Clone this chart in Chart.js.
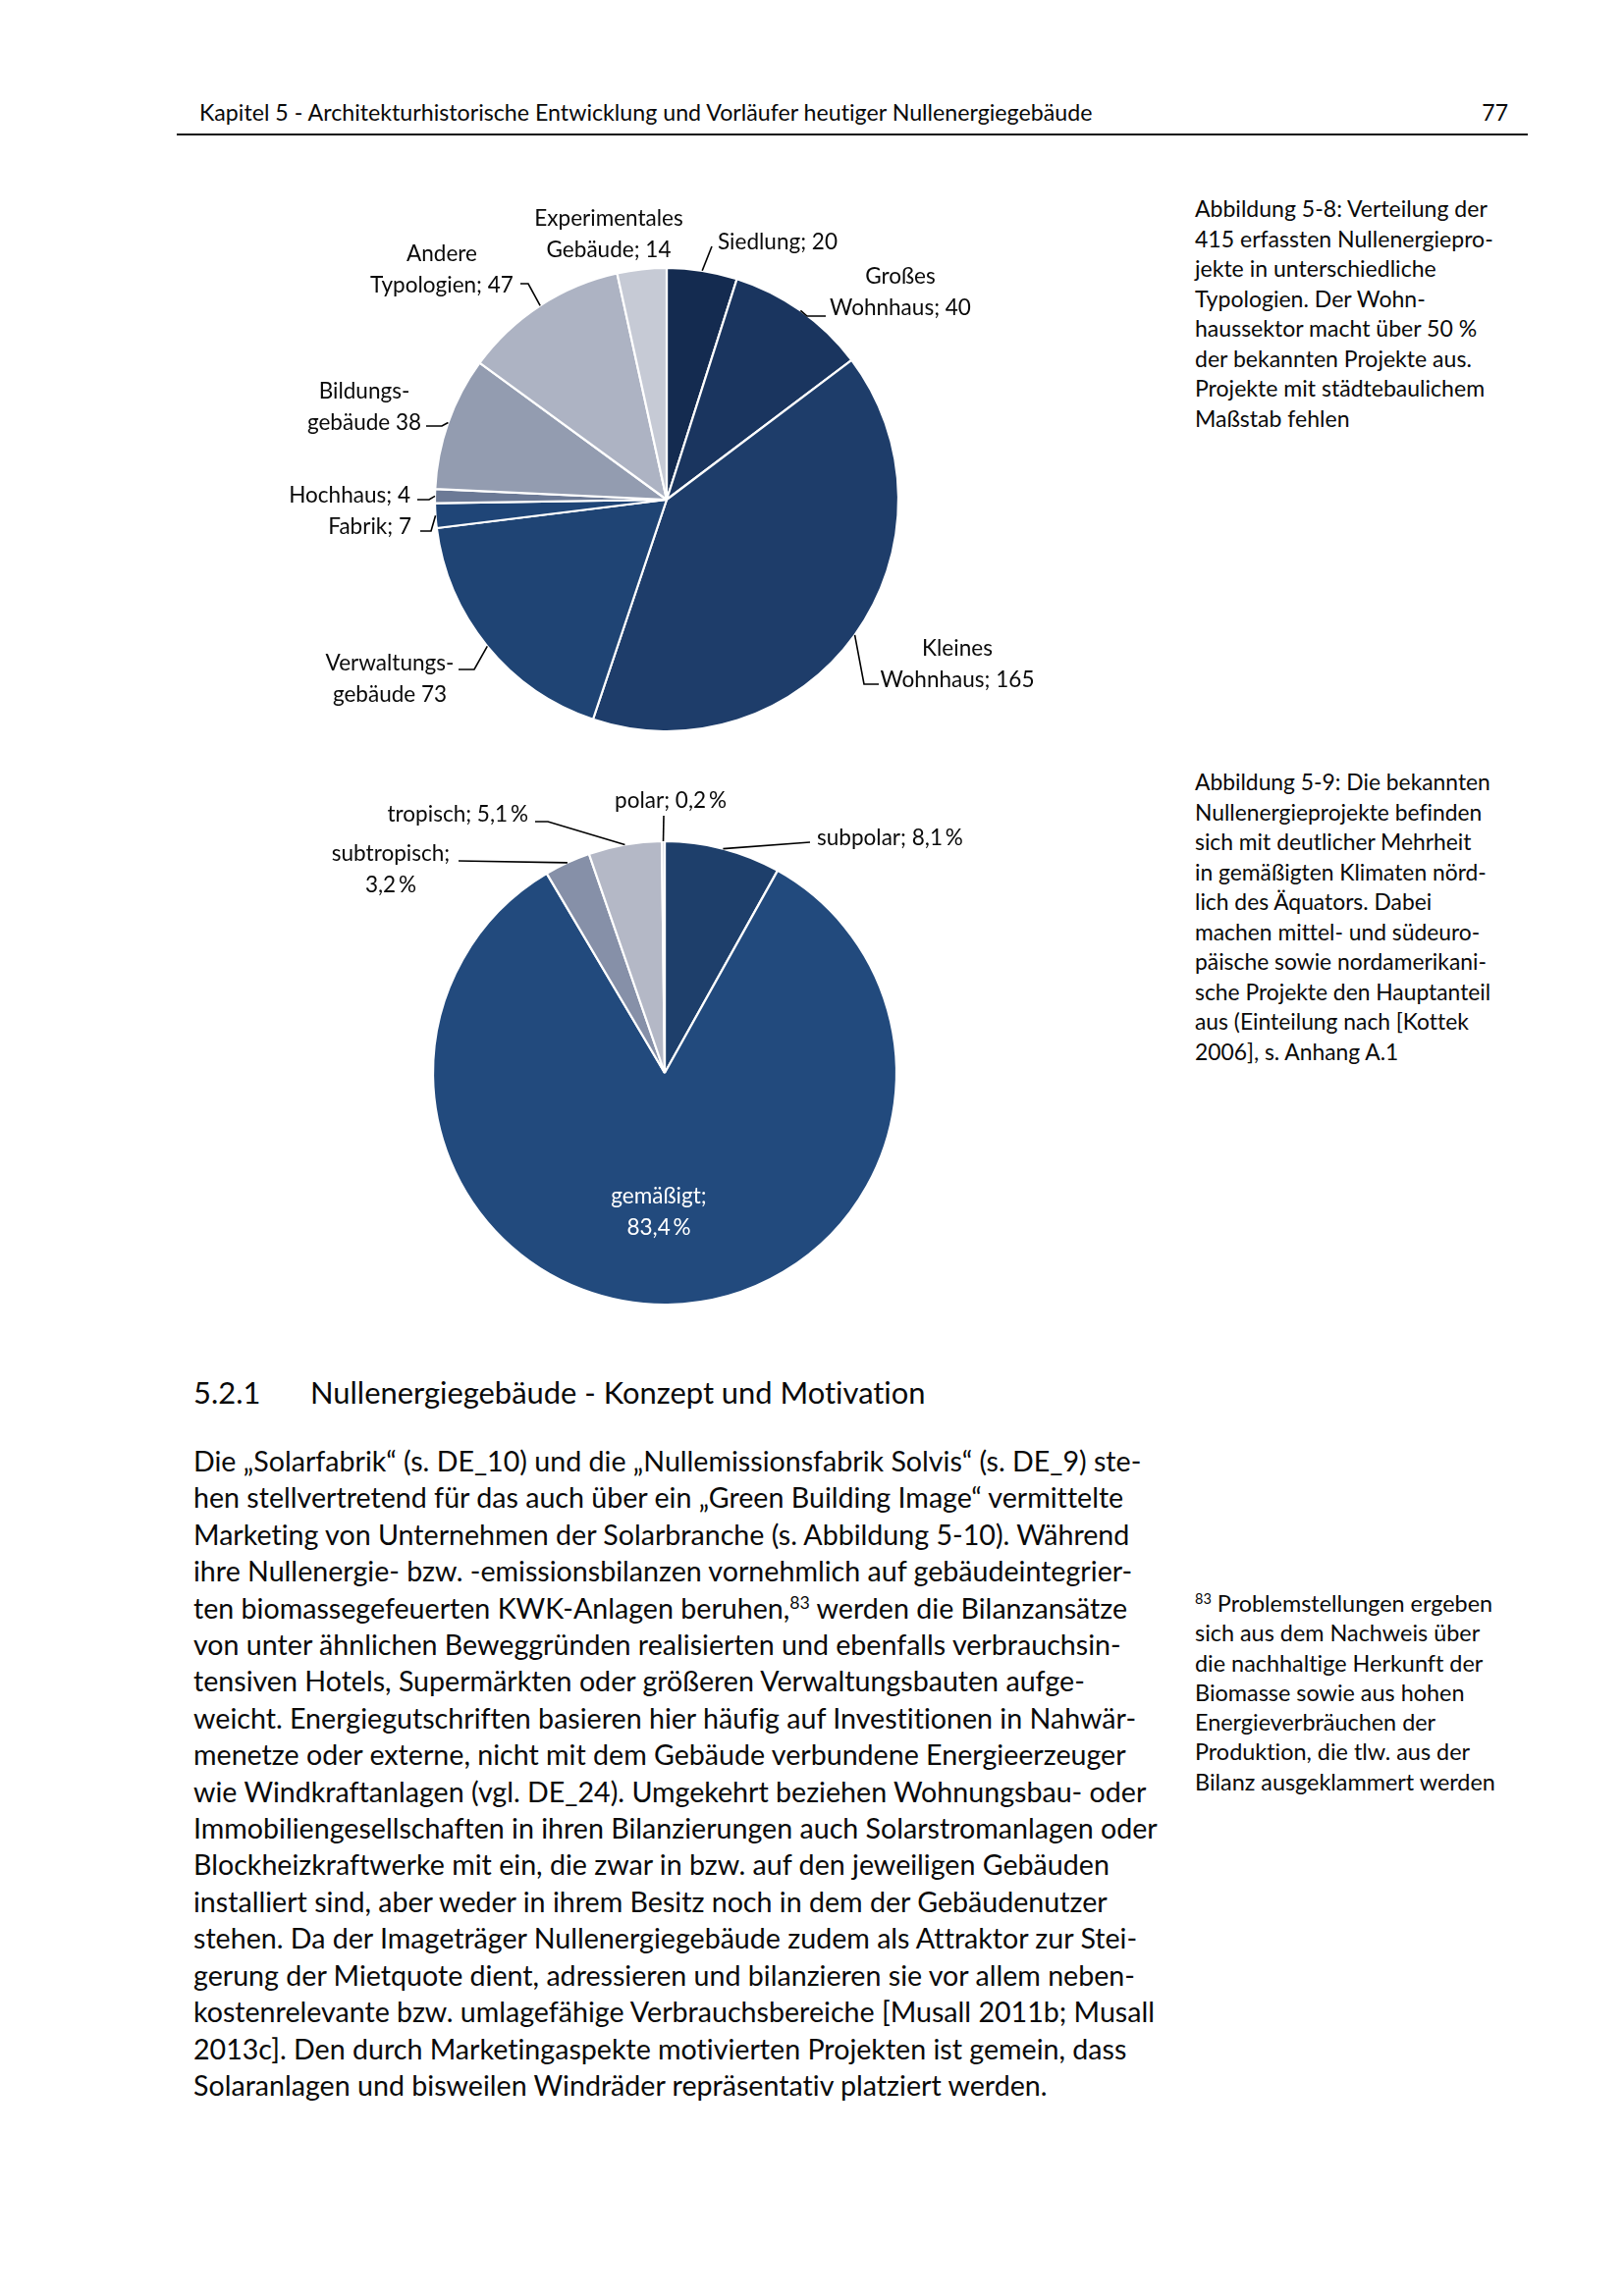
<!DOCTYPE html>
<html><head><meta charset="utf-8">
<script src="https://cdn.jsdelivr.net/npm/chart.js@4.4.1/dist/chart.umd.min.js"></script>
<style>
html,body{margin:0;padding:0;background:#fff;}
#page{position:relative;width:1654px;height:2339px;font-family:Lato,"Open Sans",sans-serif;color:#0a0a0a;overflow:hidden;font-variant-ligatures:none;font-feature-settings:"liga" 0,"clig" 0;}
.blk{position:absolute;white-space:nowrap;}
.blk span{display:inline-block;}
sup{font-size:0.62em;line-height:0;vertical-align:0.55em;}
canvas{position:absolute;}
</style></head><body>
<div id="page">
  <div class="blk" id="hdr" style="left:203px;top:99px;line-height:30px;font-size:23px;"><div><span>Kapitel 5 - Architekturhistorische Entwicklung und Vorläufer heutiger Nullenergiegebäude</span></div></div>
  <div class="blk" id="pno" style="right:118px;top:99px;line-height:30px;font-size:23px;">77</div>
  <div style="position:absolute;left:180px;top:136px;width:1376px;height:2px;background:#111;"></div>

  <div class="blk" id="cap1" style="left:1217px;top:197px;line-height:30.5px;font-size:23px;">
    <div><span>Abbildung 5-8: Verteilung der</span></div>
    <div><span>415 erfassten Nullenergiepro-</span></div>
    <div><span>jekte in unterschiedliche</span></div>
    <div><span>Typologien. Der Wohn-</span></div>
    <div><span>haussektor macht über 50 %</span></div>
    <div><span>der bekannten Projekte aus.</span></div>
    <div><span>Projekte mit städtebaulichem</span></div>
    <div><span>Maßstab fehlen</span></div>
  </div>

  <div class="blk" id="cap2" style="left:1217px;top:781px;line-height:30.5px;font-size:23px;">
    <div><span>Abbildung 5-9: Die bekannten</span></div>
    <div><span>Nullenergieprojekte befinden</span></div>
    <div><span>sich mit deutlicher Mehrheit</span></div>
    <div><span>in gemäßigten Klimaten nörd-</span></div>
    <div><span>lich des Äquators. Dabei</span></div>
    <div><span>machen mittel- und südeuro-</span></div>
    <div><span>päische sowie nordamerikani-</span></div>
    <div><span>sche Projekte den Hauptanteil</span></div>
    <div><span>aus (Einteilung nach [Kottek</span></div>
    <div><span>2006], s. Anhang A.1</span></div>
  </div>

  <div class="blk" id="head" style="left:197px;top:1398px;line-height:40px;font-size:33px;">
    <div><span style="position:absolute;left:0;">5.2.1</span><span id="htitle" style="margin-left:119px;">Nullenergiegebäude - Konzept und Motivation</span></div>
  </div>

  <div class="blk" id="body" style="left:197px;top:1470px;line-height:37.4px;font-size:28px;">
    <div><span>Die „Solarfabrik“ (s. DE_10) und die „Nullemissionsfabrik Solvis“ (s. DE_9) ste-</span></div>
    <div><span>hen stellvertretend für das auch über ein „Green Building Image“ vermittelte</span></div>
    <div><span>Marketing von Unternehmen der Solarbranche (s. Abbildung 5-10). Während</span></div>
    <div><span>ihre Nullenergie- bzw. -emissionsbilanzen vornehmlich auf gebäudeintegrier-</span></div>
    <div><span>ten biomassegefeuerten KWK-Anlagen beruhen,<sup>83</sup> werden die Bilanzansätze</span></div>
    <div><span>von unter ähnlichen Beweggründen realisierten und ebenfalls verbrauchsin-</span></div>
    <div><span>tensiven Hotels, Supermärkten oder größeren Verwaltungsbauten aufge-</span></div>
    <div><span>weicht. Energiegutschriften basieren hier häufig auf Investitionen in Nahwär-</span></div>
    <div><span>menetze oder externe, nicht mit dem Gebäude verbundene Energieerzeuger</span></div>
    <div><span>wie Windkraftanlagen (vgl. DE_24). Umgekehrt beziehen Wohnungsbau- oder</span></div>
    <div><span>Immobiliengesellschaften in ihren Bilanzierungen auch Solarstromanlagen oder</span></div>
    <div><span>Blockheizkraftwerke mit ein, die zwar in bzw. auf den jeweiligen Gebäuden</span></div>
    <div><span>installiert sind, aber weder in ihrem Besitz noch in dem der Gebäudenutzer</span></div>
    <div><span>stehen. Da der Imageträger Nullenergiegebäude zudem als Attraktor zur Stei-</span></div>
    <div><span>gerung der Mietquote dient, adressieren und bilanzieren sie vor allem neben-</span></div>
    <div><span>kostenrelevante bzw. umlagefähige Verbrauchsbereiche [Musall 2011b; Musall</span></div>
    <div><span>2013c]. Den durch Marketingaspekte motivierten Projekten ist gemein, dass</span></div>
    <div><span>Solaranlagen und bisweilen Windräder repräsentativ platziert werden.</span></div>
  </div>

  <div class="blk" id="foot" style="left:1217px;top:1618px;line-height:30.3px;font-size:23px;">
    <div><span><sup>83</sup> Problemstellungen ergeben</span></div>
    <div><span>sich aus dem Nachweis über</span></div>
    <div><span>die nachhaltige Herkunft der</span></div>
    <div><span>Biomasse sowie aus hohen</span></div>
    <div><span>Energieverbräuchen der</span></div>
    <div><span>Produktion, die tlw. aus der</span></div>
    <div><span>Bilanz ausgeklammert werden</span></div>
  </div>

  <canvas id="c1" width="800" height="620" style="left:279px;top:199px;width:800px;height:620px;"></canvas>
  <canvas id="c2" width="800" height="620" style="left:277px;top:783px;width:800px;height:620px;"></canvas>
</div>
<script>
// ---------- DATA ----------
const typCategories = ['Siedlung', 'Großes Wohnhaus', 'Kleines Wohnhaus', 'Verwaltungsgebäude', 'Fabrik', 'Hochhaus', 'Bildungsgebäude', 'Andere Typologien', 'Experimentales Gebäude'];
const typValues = [20, 40, 165, 73, 7, 4, 38, 47, 14];
const typLabelLines = [['Siedlung; {v}'], ['Großes', 'Wohnhaus; {v}'], ['Kleines', 'Wohnhaus; {v}'], ['Verwaltungs-', 'gebäude {v}'], ['Fabrik; {v}'], ['Hochhaus; {v}'], ['Bildungs-', 'gebäude {v}'], ['Andere', 'Typologien; {v}'], ['Experimentales', 'Gebäude; {v}']];

const climCategories = ['subpolar', 'gemäßigt', 'subtropisch', 'tropisch', 'polar'];
const climValues = [8.1, 83.4, 3.2, 5.1, 0.2];
const climLabelLines = [['subpolar; {v}'], ['gemäßigt;', '{v}'], ['subtropisch;', '{v}'], ['tropisch; {v}'], ['polar; {v}']];

// ---------- STYLE / LAYOUT ----------
const typColors = ['#142b50', '#1a355f', '#1e3d6a', '#1f4474', '#1f4577', '#6c7a96', '#939cb0', '#adb3c3', '#c6cad5'];
const climColors = ['#1e3f6b', '#224a7d', '#8690a8', '#b4b8c6', '#d3d6de'];

// label anchors relative to pie centre (px), leader polyline points after computed slice edge
const typLayout = [
  {x: 52, y: -262, align: 'left', leader: [[46, -258]]},
  {x: 238, y: -227, align: 'center', leader: [[143, -187], [162, -187]]},
  {x: 296, y: 152, align: 'center', leader: [[201, 188], [216, 188]]},
  {x: -282, y: 167, align: 'center', leader: [[-196, 173], [-212, 173]]},
  {x: -260, y: 28, align: 'right', leader: [[-240, 32], [-251, 32]]},
  {x: -261, y: -4, align: 'right', leader: [[-242, 0], [-254, 0]]},
  {x: -308, y: -110, align: 'center', leader: [[-229, -75], [-245, -75]]},
  {x: -229, y: -250, align: 'center', leader: [[-141, -220], [-149, -220]]},
  {x: -59, y: -286, align: 'center', leader: []}
];
const climLayout = [
  {x: 155, y: -239, align: 'left', leader: [[148, -235]]},
  {x: -6, y: 126, align: 'center', leader: [], color: '#ffffff'},
  {x: -279, y: -223, align: 'center', leader: [[-210, -216]]},
  {x: -139, y: -263, align: 'right', leader: [[-119, -256], [-132, -256]]},
  {x: 6, y: -277, align: 'center', leader: [[-1, -262]]}
];

const LINE_GAP = 31.5;
const FONT_FAMILY = 'Lato, "Open Sans", sans-serif';

// fit text blocks to reference widths
function fitBlock(id, lineIdx, target) {
  const el = document.getElementById(id);
  const spans = el.querySelectorAll('span');
  const sp = spans[lineIdx];
  const w = sp.getBoundingClientRect().width;
  const fs = parseFloat(getComputedStyle(el).fontSize);
  el.style.fontSize = (fs * target / w) + 'px';
}
fitBlock('hdr', 0, 910);
fitBlock('cap1', 0, 298);
fitBlock('cap2', 0, 301);
fitBlock('foot', 6, 306);
fitBlock('body', 10, 982);
(function () {
  const el = document.getElementById('head');
  const t = document.getElementById('htitle');
  const w = t.getBoundingClientRect().width;
  const fs = parseFloat(getComputedStyle(el).fontSize);
  el.style.fontSize = (fs * 627 / w) + 'px';
  t.style.marginLeft = '119px';
})();

// canvas label font size fitted so "Wohnhaus; 165" ~ 157px
const mctx = document.createElement('canvas').getContext('2d');
mctx.font = '25px ' + FONT_FAMILY;
const LABEL_PX = 25 * 157 / mctx.measureText('Wohnhaus; 165').width;

function fmtCount(v) { return String(v); }
function fmtPct(v) { return v.toFixed(1).replace('.', ',') + '\u2009%'; }

const labelPlugin = {
  id: 'pieLabels',
  afterDatasetsDraw(chart, args, opts) {
    const ctx = chart.ctx;
    const meta = chart.getDatasetMeta(0);
    const values = chart.data.datasets[0].data;
    ctx.save();
    meta.data.forEach((arc, i) => {
      const p = arc.getProps(['x', 'y', 'startAngle', 'endAngle', 'outerRadius'], true);
      const lay = opts.layout[i];
      const mid = (p.startAngle + p.endAngle) / 2;
      const ex = p.x + Math.cos(mid) * p.outerRadius;
      const ey = p.y + Math.sin(mid) * p.outerRadius;
      if (lay.leader.length) {
        ctx.beginPath();
        ctx.moveTo(ex, ey);
        lay.leader.forEach(pt => ctx.lineTo(p.x + pt[0], p.y + pt[1]));
        ctx.strokeStyle = '#000';
        ctx.lineWidth = 1.6;
        ctx.lineJoin = 'miter';
        ctx.stroke();
      }
      const lines = opts.lines[i].map(s => s.replace('{v}', opts.fmt(values[i])));
      ctx.font = LABEL_PX + 'px ' + FONT_FAMILY;
      ctx.fillStyle = lay.color || '#0a0a0a';
      ctx.textAlign = lay.align;
      ctx.textBaseline = 'middle';
      lines.forEach((s, k) => ctx.fillText(s, p.x + lay.x, p.y + lay.y + k * LINE_GAP));
    });
    ctx.restore();
  }
};

function makePie(id, cats, vals, colors, lines, layout, fmt) {
  return new Chart(document.getElementById(id), {
    type: 'pie',
    data: {
      labels: cats,
      datasets: [{data: vals, backgroundColor: colors, borderColor: '#ffffff', borderWidth: 2.2}]
    },
    options: {
      responsive: false,
      devicePixelRatio: 1,
      animation: false,
      events: [],
      radius: 236,
      layout: {padding: 0},
      plugins: {
        legend: {display: false},
        tooltip: {enabled: false},
        pieLabels: {layout: layout, lines: lines, fmt: fmt}
      }
    },
    plugins: [labelPlugin]
  });
}
makePie('c1', typCategories, typValues, typColors, typLabelLines, typLayout, fmtCount);
makePie('c2', climCategories, climValues, climColors, climLabelLines, climLayout, fmtPct);
</script>
</body></html>
